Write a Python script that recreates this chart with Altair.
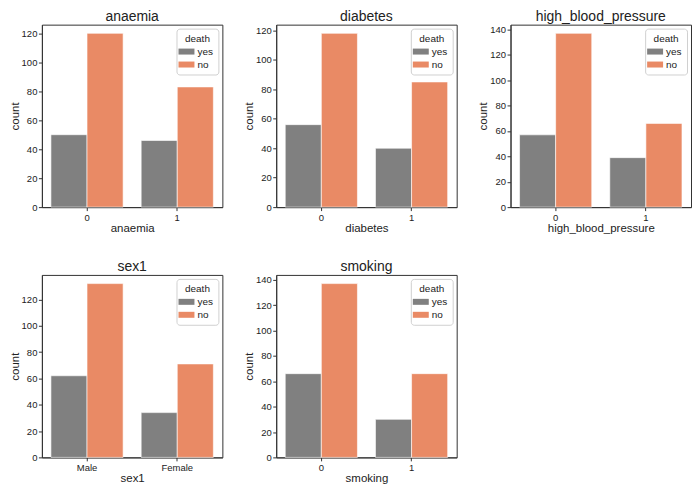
import altair as alt
import pandas as pd

features = ["anaemia", "diabetes", "high_blood_pressure", "sex1", "smoking"]
categories = {
    "anaemia": ["0", "1"],
    "diabetes": ["0", "1"],
    "high_blood_pressure": ["0", "1"],
    "sex1": ["Male", "Female"],
    "smoking": ["0", "1"],
}
death_levels = ["yes", "no"]
yes_counts = {
    "anaemia": [50, 46],
    "diabetes": [56, 40],
    "high_blood_pressure": [57, 39],
    "sex1": [62, 34],
    "smoking": [66, 30],
}
no_counts = {
    "anaemia": [120, 83],
    "diabetes": [118, 85],
    "high_blood_pressure": [137, 66],
    "sex1": [132, 71],
    "smoking": [137, 66],
}
y_ticks = {
    "anaemia": [0, 20, 40, 60, 80, 100, 120],
    "diabetes": [0, 20, 40, 60, 80, 100, 120],
    "high_blood_pressure": [0, 20, 40, 60, 80, 100, 120, 140],
    "sex1": [0, 20, 40, 60, 80, 100, 120],
    "smoking": [0, 20, 40, 60, 80, 100, 120, 140],
}
colors = ["#808080", "#e98a65"]

FONT = "Liberation Sans"
W, H = 181, 183


def panel(feat):
    rows = []
    for i, c in enumerate(categories[feat]):
        rows.append({"cat": c, "death": "yes", "count": yes_counts[feat][i]})
        rows.append({"cat": c, "death": "no", "count": no_counts[feat][i]})
    df = pd.DataFrame(rows)
    ymax = max(max(yes_counts[feat]), max(no_counts[feat])) * 1.05
    return (
        alt.Chart(df, title=alt.TitleParams(feat, fontSize=14, fontWeight="normal",
                                            font=FONT, color="#222", offset=1))
        .mark_bar(stroke="white", strokeWidth=0.6)
        .encode(
            x=alt.X("cat:N", sort=categories[feat], title=feat,
                    scale=alt.Scale(paddingInner=0.2, paddingOuter=0.1),
                    axis=alt.Axis(labelAngle=0)),
            xOffset=alt.XOffset("death:N", sort=death_levels,
                                scale=alt.Scale(paddingInner=0.0)),
            y=alt.Y("count:Q", title="count",
                    scale=alt.Scale(domain=[0, ymax], nice=False),
                    axis=alt.Axis(values=y_ticks[feat])),
            color=alt.Color("death:N", sort=death_levels,
                            scale=alt.Scale(domain=death_levels, range=colors),
                            legend=alt.Legend(title="death", orient="top-right")),
        )
        .properties(width=W, height=H)
    )


top = alt.hconcat(*[panel(f) for f in features[:3]], spacing=19).resolve_scale(
    color="independent", y="independent", x="independent").resolve_legend(color="independent")
bottom = alt.hconcat(*[panel(f) for f in features[3:]], spacing=19).resolve_scale(
    color="independent", y="independent", x="independent").resolve_legend(color="independent")

chart = (
    alt.vconcat(top, bottom, spacing=24)
    .resolve_scale(color="independent", y="independent", x="independent")
    .resolve_legend(color="independent")
    .properties(padding=0)
    .configure(font=FONT)
    .configure_view(stroke="#333", strokeWidth=1)
    .configure_axis(
        grid=False, domainColor="#333", tickColor="#333", tickSize=3.5,
        labelFont=FONT, labelFontSize=9.5, labelColor="#222",
        titleFont=FONT, titleFontSize=11.5, titleFontWeight="normal", titleColor="#222",
        labelPadding=1.5, titlePadding=1,
    )
    .configure_legend(
        strokeColor="#d0d0d0", cornerRadius=3, padding=5, fillColor="white",
        offset=4, titleFontSize=10, titleFontWeight="normal", titleColor="#222",
        titleAnchor="middle", labelFontSize=10, labelColor="#222",
        symbolType="M-1.6,-0.6H1.6V0.6H-1.6Z", symbolSize=100, symbolStrokeWidth=0,
        symbolOpacity=1, rowPadding=3, titlePadding=3, labelOffset=6,
        titleFont=FONT, labelFont=FONT,
    )
)

chart.save("out.html", embed_options={"renderer": "svg", "actions": False})
